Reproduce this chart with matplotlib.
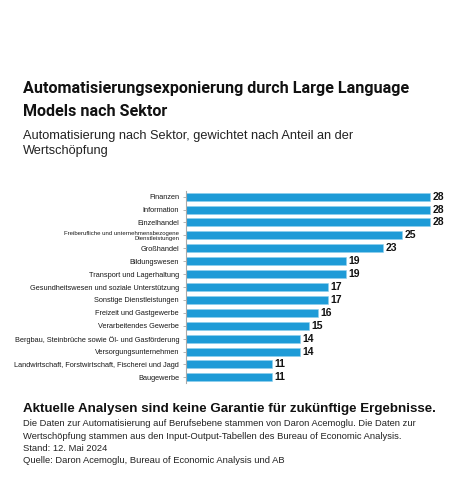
import numpy as np
import matplotlib
matplotlib.use('Agg')
import matplotlib.pyplot as plt

sectors = ['Finanzen', 'Information', 'Einzelhandel',
           'Freiberufliche und unternehmensbezogene\nDienstleistungen',
           'Großhandel', 'Bildungswesen', 'Transport und Lagerhaltung',
           'Gesundheitswesen und soziale Unterstützung',
           'Sonstige Dienstleistungen', 'Freizeit und Gastgewerbe',
           'Verarbeitendes Gewerbe',
           'Bergbau, Steinbrüche sowie Öl- und Gasförderung',
           'Versorgungsunternehmen',
           'Landwirtschaft, Forstwirtschaft, Fischerei und Jagd',
           'Baugewerbe']
values = [28, 28, 28, 25, 23, 19, 19, 17, 17, 16, 15, 14, 14, 11, 11]

W, H = 465, 479
fig = plt.figure(figsize=(W / 100, H / 100), dpi=100)

# axes placed in pixel terms
left, right, top, bottom = 186, 445, 191, 383
ax = fig.add_axes([left / W, 1 - bottom / H, (right - left) / W, (bottom - top) / H])

ind = np.arange(len(sectors))
ax.barh(ind, values, height=0.62, color='#1e9bd7', edgecolor='#8fd0ee', linewidth=0.4)
ax.set_ylim(len(sectors) - 0.56, -0.44)
x0 = 1.8
ax.set_xlim(x0, x0 + (right - left) / 9.31)

ax.set_yticks(ind)
ax.set_yticklabels(sectors, fontfamily='Liberation Sans', fontsize=5.3, color='#1a1a1a')
for lbl in ax.get_yticklabels():
    if lbl.get_text().startswith('Freiberufliche'):
        lbl.set_fontsize(4.3)
        lbl.set_linespacing(1.15)
ax.tick_params(axis='y', length=2, width=0.5, color='#999999', pad=3)
ax.set_xticks([])
for s in ['top', 'right', 'bottom']:
    ax.spines[s].set_visible(False)
ax.spines['left'].set_color('#aaaaaa')
ax.spines['left'].set_linewidth(0.8)

for i, v in enumerate(values):
    ax.annotate(str(v), (v, i), xytext=(1.8, 0), textcoords='offset points',
                ha='left', va='center', fontsize=7.5, fontweight='bold',
                fontfamily='Liberation Sans', color='#111111')

# header
fig.text(23 / W, 1 - 88 / H, 'Automatisierungsexponierung durch Large Language',
         fontfamily='Roboto', fontweight='bold', fontsize=11.6, va='center', color='#111111')
fig.text(23 / W, 1 - 112 / H, 'Models nach Sektor',
         fontfamily='Roboto', fontweight='bold', fontsize=11.6, va='center', color='#111111')
fig.text(23 / W, 1 - 136 / H, 'Automatisierung nach Sektor, gewichtet nach Anteil an der',
         fontfamily='Liberation Sans', fontsize=9.2, va='center', color='#222222')
fig.text(23 / W, 1 - 151 / H, 'Wertschöpfung',
         fontfamily='Liberation Sans', fontsize=9.2, va='center', color='#222222')

# footer
fig.text(23 / W, 1 - 409 / H, 'Aktuelle Analysen sind keine Garantie für zukünftige Ergebnisse.',
         fontfamily='Liberation Sans', fontweight='bold', fontsize=9.6, va='center', color='#111111')
notes = ['Die Daten zur Automatisierung auf Berufsebene stammen von Daron Acemoglu. Die Daten zur',
         'Wertschöpfung stammen aus den Input-Output-Tabellen des Bureau of Economic Analysis.',
         'Stand: 12. Mai 2024',
         'Quelle: Daron Acemoglu, Bureau of Economic Analysis und AB']
for k, line in enumerate(notes):
    fig.text(23 / W, 1 - (424 + 12.3 * k) / H, line,
             fontfamily='Liberation Sans', fontsize=6.75, va='center', color='#222222')

fig.savefig('out.png', dpi=100)
